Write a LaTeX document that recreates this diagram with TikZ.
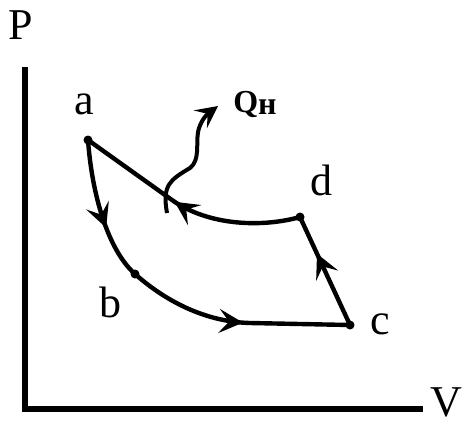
\documentclass[tikz,border=0pt]{standalone}
\usepackage{fontspec}
\setmainfont{Liberation Serif}
\usepackage{tikz}
\usetikzlibrary{arrows.meta, decorations.markings}

\begin{document}
\begin{tikzpicture}[
    x=0.5pt, y=-0.5pt,
    axis/.style={line width=3pt},
    process/.style={line width=2.2pt},
    state/.style={circle, fill=black, inner sep=0pt, minimum size=4.5pt},
    lbl/.style={font=\fontsize{22}{24}\selectfont, inner sep=0pt},
    midarrow/.style={postaction={decorate}, decoration={markings,
        mark=at position #1 with {\arrow{Stealth[length=12pt, width=12pt, inset=5pt]}}}},
    heat/.style={line width=2pt, -{Stealth[length=11pt, width=11pt, inset=4.5pt]}},
]
\useasboundingbox (0,0) rectangle (469,423);

% axes
\coordinate (ptop) at (25,67);
\coordinate (orig) at (25,409);
\coordinate (vend) at (423,409);
\draw[axis] (ptop) -- (orig) -- (vend);
\node[lbl] (plbl) at (21,25) {P};
\node[lbl] (vlbl) at (446,402) {V};

% states
\node[state] (a) at (88,140) {};
\node[state] (b) at (135,274) {};
\node[state] (c) at (350,325) {};
\node[state] (d) at (300,217) {};
\node[lbl] (albl) at (84,104) {a};
\node[lbl] (blbl) at (110,302) {b};
\node[lbl] (clbl) at (380,324) {c};
\node[lbl] (dlbl) at (321,180) {d};

% cycle
\draw[process, midarrow=0.62] (a.center) .. controls (92,195) and (108,250) .. (b.center);
\draw[process, midarrow=0.53] (b.center) .. controls (170,305) and (210,322) .. (250,323) -- (c.center);
\draw[process, midarrow=0.66] (c.center) -- (d.center);
\draw[process, midarrow=0.55] (d.center) .. controls (265,227) and (210,227) .. (172,200) -- (a.center);

% heat out
\coordinate (qs) at (167,213);
\coordinate (qe) at (218,106);
\draw[heat] (qs) .. controls (162,185) and (170,180) .. (190,168)
    .. controls (200,160) and (196,145) .. (198,132)
    .. controls (200,122) and (206,115) .. (qe);
\node[font=\fontsize{16}{18}\selectfont\bfseries, inner sep=0pt] (qlbl) at (255,104)
    {Q\raisebox{-1pt}{н}};

\end{tikzpicture}
\end{document}
